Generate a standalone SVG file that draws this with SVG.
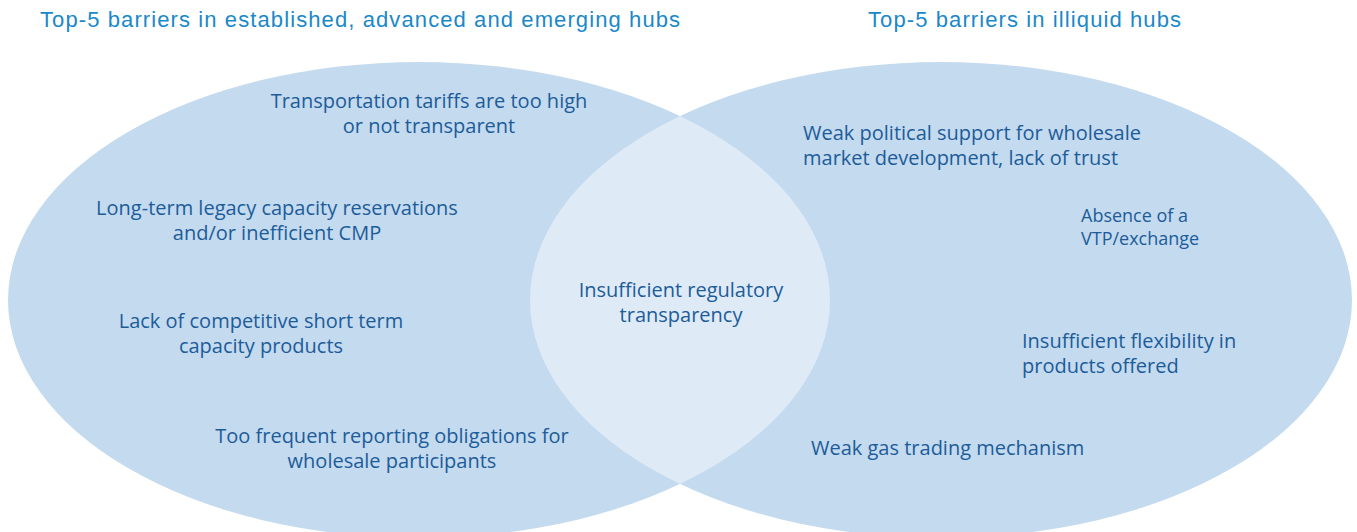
<svg xmlns="http://www.w3.org/2000/svg" width="1357" height="532" viewBox="0 0 1357 532">
<style>
.title{font-family:"Liberation Sans",Arial,sans-serif;font-size:22px;letter-spacing:1.1px;fill:#1a88c9}
.t{font-family:"Open Sans","Liberation Sans",sans-serif;font-size:20px;fill:#1d5c99}
.s{font-family:"Open Sans","Liberation Sans",sans-serif;font-size:18px;fill:#1d5c99}
.c{text-anchor:middle}
.hub{fill:#c3daef}
.lens{fill:#deebf7}
</style>
<defs>
<clipPath id="clipL"><ellipse cx="419" cy="300" rx="411" ry="238"/></clipPath>
</defs>
<rect width="1357" height="532" fill="#ffffff"/>
<g id="titles">
<text class="title" x="40" y="27">Top-5 barriers in established, advanced and emerging hubs</text>
<text class="title" x="868" y="27">Top-5 barriers in illiquid hubs</text>
</g>
<g id="hub-left"><ellipse class="hub" cx="419" cy="300" rx="411" ry="238"/></g>
<g id="hub-right"><ellipse class="hub" cx="941" cy="300" rx="411" ry="238"/></g>
<g id="overlap"><ellipse class="lens" cx="941" cy="300" rx="411" ry="238" clip-path="url(#clipL)"/></g>
<g id="connectors"></g>
<g id="left-items">
<text class="t c" x="429" y="108">Transportation tariffs are too high<tspan x="429" dy="25">or not transparent</tspan></text>
<text class="t c" x="277" y="215">Long-term legacy capacity reservations<tspan x="277" dy="25">and/or inefficient CMP</tspan></text>
<text class="t c" x="261" y="328">Lack of competitive short term<tspan x="261" dy="25">capacity products</tspan></text>
<text class="t c" x="392" y="443">Too frequent reporting obligations for<tspan x="392" dy="25">wholesale participants</tspan></text>
</g>
<g id="center-item">
<text class="t c" x="681" y="297">Insufficient regulatory<tspan x="681" dy="25">transparency</tspan></text>
</g>
<g id="right-items">
<text class="t" x="803" y="140">Weak political support for wholesale<tspan x="803" dy="25">market development, lack of trust</tspan></text>
<text class="s" x="1081" y="222">Absence of a<tspan x="1081" dy="23">VTP/exchange</tspan></text>
<text class="t" x="1022" y="348">Insufficient flexibility in<tspan x="1022" dy="25">products offered</tspan></text>
<text class="t" x="811" y="455">Weak gas trading mechanism</text>
</g>
</svg>
